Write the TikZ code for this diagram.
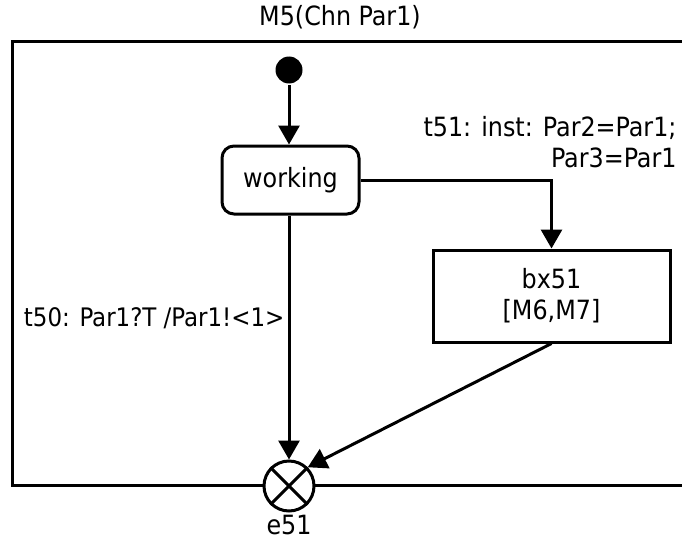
\documentclass[tikz,border=0pt]{standalone}
\usepackage{fontspec}
\setmainfont{DejaVu Sans Condensed}
\usetikzlibrary{arrows.meta}
\begin{document}
\begin{tikzpicture}[x=1pt,y=-1pt,
  line width=3pt,
  every node/.style={font=\fontsize{26.5}{31}\selectfont, inner sep=0pt},
  flow/.style={-{Triangle[length=19pt,width=21pt]}},
  statebox/.style={draw, rounded corners=12pt, minimum width=137pt, minimum height=68pt},
  boxnode/.style={draw, minimum width=237pt, minimum height=92pt, align=center},
  lbl/.style={align=right}]
  \useasboundingbox (0,0) rectangle (682,543);
  % machine frame, open to the right
  \draw (682,42) -- (12,42) -- (12,485) -- (682,485);
  \node (title) at (340,17) {M5(Chn Par1)};
  % initial pseudo-state
  \node (init) [circle, fill=black, minimum size=27pt] at (289,70) {};
  % states
  \node (work) [statebox] at (290.5,180) {working};
  \node (bx) [boxnode] at (551.5,296) {bx51\\{}[M6,M7]};
  % exit point
  \node (exit) [circle, draw, fill=white, minimum size=50pt] at (289,486) {};
  \draw (exit.north west) -- (exit.south east) (exit.north east) -- (exit.south west);
  \node (elbl) at (289,525) {e51};
  % transitions
  \draw[flow] (init) -- (work.north -| init);
  \draw[flow] (work.east) -- (work.east -| bx.north) -- (bx.north);
  \draw[flow] (work.south -| init) -- (exit.north);
  \draw[flow] (bx.south) -- (exit.north east);
  \node (t51) [lbl, anchor=east] at (678,142) {t51: inst: Par2=Par1;\\Par3=Par1};
  \node (t50) [anchor=east, font=\fontsize{25.5}{30}\selectfont] at (286,318) {t50: Par1?T /Par1!<1>};
\end{tikzpicture}
\end{document}
